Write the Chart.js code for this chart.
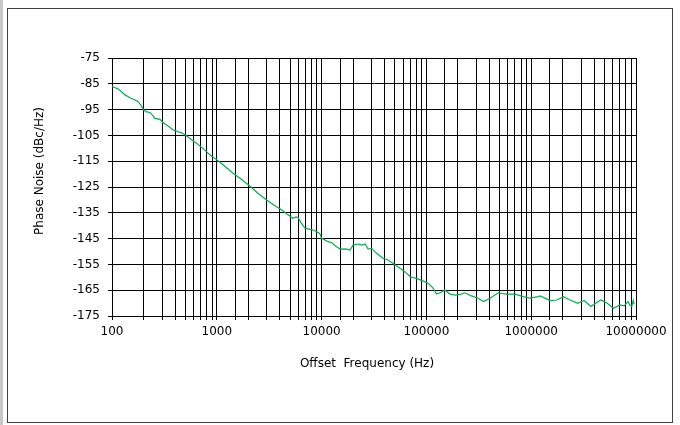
<!DOCTYPE html>
<html>
<head>
<meta charset="utf-8">
<script src="https://cdn.jsdelivr.net/npm/chart.js@4/dist/chart.umd.min.js"></script>
<style>
  html, body { margin: 0; padding: 0; background: #fff; }
  #wrap { width: 680px; height: 425px; position: relative; }
</style>
</head>
<body>
<div id="wrap"><canvas id="noiseChart"></canvas></div>
<script>
// --- DATA ---
const offsetFreq = [
    100, 115, 133, 150, 166, 178, 190, 203, 215, 230, 245, 257, 287, 309, 340, 384, 420, 462, 515, 580,
    643, 770, 862, 960, 1155, 1400, 1664, 2067, 2500, 2988, 3500, 4168, 4700, 5336, 5700, 5960, 6400, 6950,
    7770, 8330, 9600, 10000, 10750, 11500, 12500, 13500, 15000, 16800, 18650, 20000, 22400, 24000, 26100,
    27800, 30000, 33400, 38500, 43000, 48000, 56000, 63000, 70000, 80000, 90000, 104000, 115000, 125000,
    138000, 150000, 168000, 190000, 210000, 233000, 268000, 312000, 350000, 405000, 485000, 580000, 700000,
    840000, 970000, 1170000, 1220000, 1520000, 1760000, 2030000, 2350000, 2780000, 3200000, 3700000,
    4600000, 5200000, 6100000, 7000000, 7700000, 8400000, 8700000, 9100000, 9400000, 9600000
];
const phaseNoise = [
    -86.1, -87.0, -89.3, -90.5, -91.3, -91.9, -93.5, -95.4, -95.9, -96.1, -97.3, -98.4, -98.8, -100.1, -101.3, -102.9, -103.5, -104.0, -105.2, -106.8,
    -108.1, -110.7, -112.6, -113.9, -116.5, -119.4, -121.6, -124.6, -127.6, -130.0, -132.0, -133.9, -135.6, -137.1, -136.6, -136.8, -139.0, -141.0,
    -141.4, -141.7, -143.0, -144.9, -145.5, -146.2, -146.6, -147.8, -149.1, -149.0, -149.4, -147.5, -147.1, -147.5, -147.1,
    -149.1, -148.8, -150.7, -152.6, -153.3, -154.6, -156.5, -158.0, -159.8, -160.4, -161.2, -162.3, -164.0, -166.5,
    -165.8, -164.9, -166.5, -166.9, -166.6, -166.0, -167.2, -168.1, -169.4, -168.1, -166.0, -166.5, -166.5,
    -167.5, -168.1, -167.5, -167.2, -169.0, -168.8, -167.5, -168.8, -170.1, -169.0, -171.3,
    -168.8, -169.8, -172.0, -170.7, -171.1, -169.4, -170.7, -171.3, -169.0, -170.5
];
const xTickLabels = [100, 1000, 10000, 100000, 1000000, 10000000];
const yMin = -175;
const yMax = -75;
const yStep = 10;
const xTitle = 'Offset  Frequency (Hz)';
const yTitle = 'Phase Noise (dBc/Hz)';

const FONT = { family: 'DejaVu Sans', size: 12 };

// white page, grey strip on the left and the outer frame
const framePlugin = {
    id: 'frame',
    beforeDraw(chart) {
        const ctx = chart.ctx;
        ctx.save();
        ctx.fillStyle = '#fff';
        ctx.fillRect(0, 0, chart.width, chart.height);
        ctx.fillStyle = '#c8c8c8';
        ctx.fillRect(0, 0, 3, chart.height);
        ctx.strokeStyle = '#404040';
        ctx.lineWidth = 1;
        ctx.strokeRect(7.5, 8.5, 665, 414);
        ctx.restore();
    }
};

// axis titles sit a little off-centre in the original (Excel style), so draw them here
const titlePlugin = {
    id: 'axisTitles',
    afterDraw(chart) {
        const ctx = chart.ctx;
        const area = chart.chartArea;
        ctx.save();
        ctx.fillStyle = '#000';
        ctx.font = `${FONT.size}px "${FONT.family}"`;
        ctx.textAlign = 'center';
        ctx.textBaseline = 'middle';
        ctx.fillText(xTitle, (area.left + area.right) / 2 - 7, area.bottom + 48);
        ctx.translate(40, (area.top + area.bottom) / 2 - 16);
        ctx.rotate(-Math.PI / 2);
        ctx.fillText(yTitle, 0, 0);
        ctx.restore();
    }
};

function initChart() {
    const ctx = document.getElementById('noiseChart');
    const points = offsetFreq.map((f, i) => ({ x: f, y: phaseNoise[i] }));

    new Chart(ctx.getContext('2d'), {
        type: 'line',
        data: {
            datasets: [{
                data: points,
                borderColor: '#00b050',
                borderWidth: 1.2,
                pointRadius: 0,
                tension: 0,
                fill: false
            }]
        },
        options: {
            responsive: true,
            maintainAspectRatio: false,
            animation: false,
            layout: { padding: { left: 30, top: 58, right: 44, bottom: 48 } },
            plugins: {
                legend: { display: false },
                tooltip: { enabled: false }
            },
            scales: {
                x: {
                    type: 'logarithmic',
                    min: 100,
                    max: 10000000,
                    grid: { color: '#000', lineWidth: 1, tickLength: 4 },
                    border: { color: '#000', width: 1 },
                    ticks: {
                        autoSkip: false,
                        maxRotation: 0,
                        color: '#000',
                        font: FONT,
                        padding: 5,
                        callback: (v) => xTickLabels.includes(v) ? String(v) : ''
                    },
                    afterFit: (scale) => { scale.height = 425 - 316 - 48; }
                },
                y: {
                    min: yMin,
                    max: yMax,
                    grid: { color: '#000', lineWidth: 1, tickLength: 4 },
                    border: { color: '#000', width: 1 },
                    ticks: {
                        stepSize: yStep,
                        color: '#000',
                        font: FONT,
                        padding: 8
                    },
                    afterFit: (scale) => { scale.width = 112 - 30; }
                }
            }
        },
        plugins: [framePlugin, titlePlugin]
    });
}

document.addEventListener('DOMContentLoaded', initChart);
</script>
</body>
</html>
